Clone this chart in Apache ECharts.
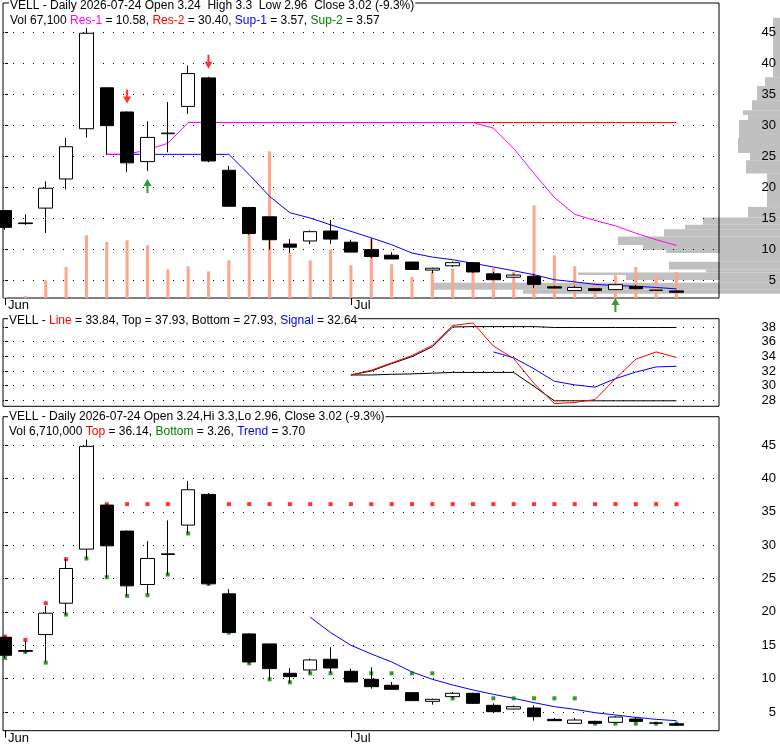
<!DOCTYPE html>
<html>
<head>
<meta charset="utf-8">
<title>VELL daily</title>
<script src="https://cdn.jsdelivr.net/npm/echarts@6/dist/echarts.min.js"></script>
<style>
html, body { margin: 0; padding: 0; background: #fff; }
#main { width: 780px; height: 745px; }
</style>
</head>
<body>
<div id="main"></div>
<script>
// daily bars, first day of June .. 2026-07-24
var opens  = [16.2, 14.2, 16.6, 21.3, 29.4, 36.0, 32.1, 24.1, 28.6, 33.0, 37.6, 22.7, 16.7, 15.2, 10.8, 11.3, 12.9,
              11.1, 9.9, 9.0, 7.9, 6.6, 7.3, 7.8, 6.0, 5.45, 5.6, 3.9, 3.3, 3.6, 3.45, 3.95, 3.37, 3.24];
var closes = [13.5, 14.1, 19.8, 26.5, 44.8, 29.9, 23.9, 28.0, 28.7, 38.3, 24.2, 16.9, 12.5, 11.5, 10.3, 12.8, 11.6,
              9.5, 8.8, 8.4, 6.7, 6.9, 7.8, 6.3, 5.05, 5.8, 4.3, 3.7, 3.8, 3.3, 4.25, 3.6, 3.33, 3.02];
var lows   = [13.1, 13.9, 12.6, 19.6, 28.0, 25.2, 22.4, 22.6, 25.6, 31.8, 24.0, 16.9, 12.3, 9.9, 9.4, 10.8, 10.8,
              9.5, 8.5, 8.4, 6.7, 6.1, 7.1, 6.2, 5.0, 5.4, 3.7, 3.7, 3.3, 3.2, 3.4, 3.5, 3.25, 2.96];
var highs  = [16.3, 15.6, 20.9, 27.9, 45.8, 36.1, 32.2, 30.6, 33.7, 39.6, 37.8, 23.4, 16.8, 15.2, 11.6, 13.0, 14.7,
              11.5, 11.7, 9.5, 7.9, 7.0, 8.0, 7.9, 6.3, 6.0, 6.0, 4.1, 4.1, 3.7, 4.4, 4.2, 3.4, 3.3];
var volumes = [2600, 5200, 45700, 80000, 161800, 144500, 148900, 136000, 74000, 81800, 68900, 97300, 165000,
               378500, 116100, 97300, 125600, 84400, 153300, 87000, 54200, 67100, 75900, 77400, 78400, 67100,
               239200, 110200, 81800, 39700, 58600, 80000, 58600, 67100];

var monthStarts = [0, 17];
var monthNames = ['Jun', 'Jul'];

// top panel indicators (value lists begin at the given bar index)
var res1Start = 5;
var res1 = [25.27, 25.27, 26.0, 27.05, 30.4, 30.4, 30.4, 30.4, 30.4, 30.4, 30.4, 30.4, 30.4, 30.4, 30.4, 30.4,
            30.4, 30.4, 30.4, 29.5, 26.2, 22.2, 18.3, 15.6, 14.6, 13.75, 12.55, 11.5, 10.58];
var res2Start = 9;
var res2 = [30.4, 30.4, 30.4, 30.4, 30.4, 30.4, 30.4, 30.4, 30.4, 30.4, 30.4, 30.4, 30.4, 30.4, 30.4, 30.4,
            30.4, 30.4, 30.4, 30.4, 30.4, 30.4, 30.4, 30.4, 30.4];
var sup1Start = 5;
var sup1 = [25.27, 25.27, 25.27, 25.27, 25.27, 25.27, 25.27, 22.0, 18.5, 15.85, 15.0, 13.9, 12.85, 11.8, 10.7,
            9.35, 8.7, 8.27, 7.7, 7.1, 6.5, 5.85, 5.05, 4.7, 4.3, 4.1, 4.0, 3.8, 3.57];
var sup2Last = 3.57;
var downSignals = [6, 10];
var upSignals = [7, 30];

// volume at price (thousand shares)
var profileLow  = [37.7, 36.3, 34.0, 32.4, 31.6, 30.8, 27.9, 25.5, 24.3, 22.2, 16.8, 15.1, 13.9, 13.2, 12.0,
                   10.65, 9.85, 9.35, 7.95, 6.7, 6.2, 5.8, 5.0, 4.55, 3.45, 2.8];
var profileHigh = [47.3, 37.7, 36.3, 34.0, 32.4, 31.6, 30.8, 27.9, 25.5, 24.3, 22.2, 16.8, 15.1, 13.9, 13.2,
                   12.0, 10.65, 9.85, 9.35, 7.95, 6.7, 6.2, 5.8, 5.0, 4.55, 3.45];
var profileVol  = [70, 150, 230, 280, 370, 320, 410, 420, 300, 340, 130, 320, 770, 950, 1160,
                   1620, 1370, 1140, 600, 1110, 740, 2020, 1540, 600, 3480, 2570];

// middle panel
var lineStart = 17;
var lineVals   = [31.45, 32.1, 33.1, 34.1, 35.5, 38.2, 38.55, 35.4, 33.7, 30.3, 27.55, 27.7, 28.1, 30.95, 33.6, 34.6, 33.84];
var topVals    = [31.45, 32.0, 33.0, 33.95, 35.3, 38.0, 38.05, 38.05, 38.05, 38.05, 37.93, 37.93, 37.93, 37.93, 37.93, 37.93, 37.93];
var bottomVals = [31.45, 31.45, 31.55, 31.6, 31.7, 31.8, 31.8, 31.8, 31.8, 29.9, 27.93, 27.93, 27.93, 27.93, 27.93, 27.93, 27.93];
var signalStart = 24;
var signalVals = [34.6, 33.8, 32.3, 30.6, 30.1, 29.8, 30.95, 31.85, 32.55, 32.64];

// bottom panel
var topDots = [16.3, 15.8, 21.3, 27.9, null, 36.14, 36.14, 36.14, 36.14, 36.14, 36.14, 36.14, 36.14, 36.14, 36.14,
               36.14, 36.14, 36.14, 36.14, 36.14, 36.14, 36.14, 36.14, 36.14, 36.14, 36.14, 36.14, 36.14, 36.14,
               36.14, 36.14, 36.14, 36.14, 36.14];
var bottomDots = [13.1, 14.0, 12.4, 19.6, 28.0, 25.2, 22.4, 22.5, 25.6, 31.75, 24.2, 16.9, 12.3, 9.9, 9.45,
                  10.8, 10.8, 10.8, 10.8, 10.8, 10.8, 10.8, 7.05, 7.05, 7.05, 7.05, 7.05, 7.05, 7.05,
                  3.26, 3.26, 3.26, 3.26, 3.26];
var trendStart = 15;
var trendVals = [19.2, 16.9, 15.0, 13.7, 12.5, 11.0, 9.9, 9.05, 8.3, 7.65, 7.05, 6.4, 5.8, 5.4, 4.9, 4.55, 4.2, 3.9, 3.7];

var FONT = "'Liberation Sans', Arial, sans-serif";
var last = opens.length - 1;

function seq(start, vals) {
    var out = [];
    for (var k = 0; k < vals.length; k++) {
        if (vals[k] != null) out.push([start + k, vals[k]]);
    }
    return out;
}
function lastOf(a) { return a[a.length - 1]; }

var ohlc = opens.map(function (o, i) { return [i, o, closes[i], lows[i], highs[i]]; });
var vol = volumes.map(function (v, i) { return [i, v]; });
var profile = profileLow.map(function (lo, i) { return [lo, profileHigh[i], profileVol[i]]; });
var chg = ((closes[last] - closes[last - 1]) / closes[last - 1] * 100).toFixed(1);
var volText = volumes[last].toLocaleString('en-US');

function rs(color) { return { color: color, fontSize: 12, fontFamily: FONT }; }
var rich = { k: rs('#000'), m: rs('#ff00ff'), r: rs('#ff0000'), b: rs('#0000ff'), g: rs('#008000') };
function header(left, top, text) {
    return {
        left: left, top: top, text: text, padding: [1, 1],
        backgroundColor: '#fff',
        textStyle: { fontSize: 12, fontWeight: 'normal', fontFamily: FONT, color: '#000', rich: rich }
    };
}

var xMin = -0.1, xMax = 35.09;
function xAxisFor(gi, labels) {
    return {
        type: 'value', gridIndex: gi, min: xMin, max: xMax,
        splitLine: { show: false }, axisLine: { show: false },
        axisTick: { show: labels, customValues: monthStarts, length: 7, lineStyle: { color: '#000' } },
        axisLabel: {
            show: labels, customValues: monthStarts, align: 'left', verticalAlign: 'top',
            margin: 1, padding: [0, 0, 0, 3], fontSize: 13, fontFamily: FONT, color: '#000',
            formatter: function (v) { return monthNames[monthStarts.indexOf(v)] || ''; }
        }
    };
}
function priceAxis(gi, min, max, split) {
    return {
        type: 'value', gridIndex: gi, position: 'right', min: min, max: max, splitNumber: split,
        axisLine: { show: false },
        axisTick: { show: true, length: 3, lineStyle: { color: '#000' } },
        axisLabel: { showMinLabel: false, showMaxLabel: false, align: 'right', margin: 57,
                     fontSize: 13, fontFamily: FONT, color: '#000' },
        splitLine: { show: true, showMinLine: false, showMaxLine: false,
                     lineStyle: { color: '#000', type: [1, 9], width: 1 } }
    };
}
function line(xi, yi, data, color, z) {
    return {
        type: 'line', xAxisIndex: xi, yAxisIndex: yi, data: data, showSymbol: false,
        lineStyle: { color: color, width: 1 }, itemStyle: { color: color }, z: z || 2, silent: true
    };
}
function candles(xi, yi) {
    return {
        type: 'candlestick', xAxisIndex: xi, yAxisIndex: yi, data: ohlc, barWidth: 14, z: 3,
        encode: { x: 0, y: [1, 2, 3, 4] },
        itemStyle: { color: '#fff', color0: '#000', borderColor: '#000', borderColor0: '#000',
                     borderColorDoji: '#000', borderWidth: 1 }
    };
}
var downArrow = 'path://M3,0 L5,0 L5,7 L8,7 L4,14 L0,7 L3,7 Z';
var upArrow = 'path://M4,0 L8,7 L5,7 L5,14 L3,14 L3,7 L0,7 Z';

var chart = echarts.init(document.getElementById('main'));
chart.setOption({
    animation: false,
    backgroundColor: '#fff',
    title: [
        header(9, -1, 'VELL - Daily 2026-07-24 Open ' + opens[last] + '  High ' + highs[last] + '  Low ' + lows[last] +
            '  Close ' + closes[last].toFixed(2) + ' (' + chg + '%)'),
        header(9, 14, '{k|Vol ' + volText + ' }{m|Res-1}{k| = ' + lastOf(res1).toFixed(2) + ', }{r|Res-2}{k| = ' +
            lastOf(res2).toFixed(2) + ', }{b|Sup-1}{k| = ' + lastOf(sup1).toFixed(2) + ', }{g|Sup-2}{k| = ' +
            sup2Last.toFixed(2) + '}'),
        header(8, 314, '{k|VELL - }{r|Line}{k| = ' + lastOf(lineVals).toFixed(2) + ', Top = ' + lastOf(topVals).toFixed(2) +
            ', Bottom = ' + lastOf(bottomVals).toFixed(2) + ', }{b|Signal}{k| = ' + lastOf(signalVals).toFixed(2) + '}'),
        header(8, 410, 'VELL - Daily 2026-07-24 Open ' + opens[last] + ',Hi ' + highs[last] + ',Lo ' + lows[last] +
            ', Close ' + closes[last].toFixed(2) + ' (' + chg + '%)'),
        header(8, 425, '{k|Vol 6,710,000 }{r|Top}{k| = ' + lastOf(topDots).toFixed(2) + ', }{g|Bottom}{k| = ' +
            lastOf(bottomDots).toFixed(2) + ', }{b|Trend}{k| = ' + lastOf(trendVals).toFixed(2) + '}')
    ],
    grid: [
        { left: 3, top: 3, width: 716, height: 295, show: true, borderColor: '#000', borderWidth: 1, backgroundColor: 'transparent' },
        { left: 3, top: 318.7, width: 716, height: 87.6, show: true, borderColor: '#000', borderWidth: 1, backgroundColor: 'transparent' },
        { left: 3, top: 416.7, width: 716, height: 314, show: true, borderColor: '#000', borderWidth: 1, backgroundColor: 'transparent' },
        { left: 400, top: 3, width: 380, height: 295, show: false }
    ],
    xAxis: [
        xAxisFor(0, true),
        xAxisFor(1, false),
        xAxisFor(2, true),
        { type: 'value', gridIndex: 3, inverse: true, min: 0, max: 3800, show: false }
    ],
    yAxis: [
        priceAxis(0, 2.1, 49.68, 10),
        { type: 'value', gridIndex: 0, min: 0, max: 761300, show: false },
        priceAxis(1, 27.18, 39.13, 6),
        priceAxis(2, 2.2, 49.24, 10),
        { type: 'value', gridIndex: 3, min: 2.1, max: 49.68, show: false }
    ],
    series: [
        {
            type: 'custom', xAxisIndex: 3, yAxisIndex: 4, data: profile, z: -1, silent: true,
            encode: { x: 2, y: [0, 1] },
            renderItem: function (params, api) {
                var p1 = api.coord([api.value(2), api.value(1)]);
                var p0 = api.coord([0, api.value(0)]);
                return { type: 'rect', shape: { x: p1[0], y: p1[1], width: p0[0] - p1[0], height: p0[1] - p1[1] },
                         style: { fill: '#c0c0c0' } };
            }
        },
        { type: 'bar', xAxisIndex: 0, yAxisIndex: 1, data: vol, barWidth: 3, itemStyle: { color: '#ffa589' }, z: 1, silent: true },
        line(0, 0, seq(res2Start, res2), '#ff0000'),
        line(0, 0, seq(sup1Start, sup1), '#0000ff'),
        line(0, 0, seq(res1Start, res1), '#ff00ff'),
        candles(0, 0),
        {
            type: 'scatter', xAxisIndex: 0, yAxisIndex: 0, clip: false, z: 4, silent: true,
            data: downSignals.map(function (i) { return [i, highs[i]]; }),
            symbol: downArrow, symbolSize: [8, 14], symbolOffset: [0, -15], itemStyle: { color: '#ff0000' }
        },
        {
            type: 'scatter', xAxisIndex: 0, yAxisIndex: 0, clip: false, z: 4, silent: true,
            data: upSignals.map(function (i) { return [i, lows[i]]; }),
            symbol: upArrow, symbolSize: [8, 14], symbolOffset: [0, 15], itemStyle: { color: '#008000' }
        },
        line(1, 2, seq(lineStart, topVals), '#000000'),
        line(1, 2, seq(lineStart, bottomVals), '#000000'),
        line(1, 2, seq(signalStart, signalVals), '#0000ff'),
        line(1, 2, seq(lineStart, lineVals), '#ff0000', 3),
        {
            type: 'scatter', xAxisIndex: 2, yAxisIndex: 3, data: seq(0, topDots), symbol: 'rect', symbolSize: 4,
            itemStyle: { color: '#ff0000' }, z: 2, silent: true
        },
        {
            type: 'scatter', xAxisIndex: 2, yAxisIndex: 3, data: seq(0, bottomDots), symbol: 'rect', symbolSize: 4,
            itemStyle: { color: '#008000' }, z: 2, silent: true
        },
        line(2, 3, seq(trendStart, trendVals), '#0000ff'),
        candles(2, 3)
    ]
});
</script>
</body>
</html>
